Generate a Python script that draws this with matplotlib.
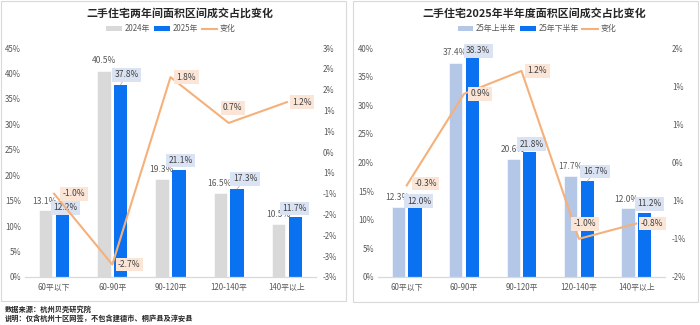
import matplotlib
matplotlib.use("Agg")
import matplotlib.pyplot as plt
from matplotlib.patches import Rectangle, Patch
from matplotlib.lines import Line2D
import numpy as np

plt.rcParams['font.family'] = ['Noto Sans CJK SC', 'DejaVu Sans']

# ---------------- data ----------------
categories = ['60平以下', '60-90平', '90-120平', '120-140平', '140平以上']

left_title = '二手住宅两年间面积区间成交占比变化'
left_series_names = ['2024年', '2025年', '变化']
left_a = [13.1, 40.5, 19.3, 16.5, 10.5]
left_b = [12.2, 37.8, 21.1, 17.3, 11.7]
left_change = [-1.0, -2.7, 1.8, 0.7, 1.2]
left_y_ticks = [0, 5, 10, 15, 20, 25, 30, 35, 40, 45]
left_y2_ticks = [-3.0, -2.5, -2.0, -1.5, -1.0, -0.5, 0.0, 0.5, 1.0, 1.5, 2.0, 2.5]
left_y2_labels = ['-3%', '-3%', '-2%', '-2%', '-1%', '1%', '0%', '1%', '1%', '2%', '2%', '3%']

right_title = '二手住宅2025年半年度面积区间成交占比变化'
right_series_names = ['25年上半年', '25年下半年', '变化']
right_a = [12.3, 37.4, 20.6, 17.7, 12.0]
right_b = [12.0, 38.3, 21.8, 16.7, 11.2]
right_change = [-0.3, 0.9, 1.2, -1.0, -0.8]
right_y_ticks = [0, 5, 10, 15, 20, 25, 30, 35, 40]
right_y2_ticks = [-1.5, -1.0, -0.5, 0.0, 0.5, 1.0, 1.5]
right_y2_labels = ['-2%', '-1%', '1%', '0%', '1%', '1%', '2%']

source_text = '数据来源：杭州贝壳研究院'
note_text = '说明：仅含杭州十区网签，不包含建德市、桐庐县及淳安县'

# ---------------- style ----------------
W, H = 700, 325
fig = plt.figure(figsize=(7, 3.25), dpi=100)
fig.patch.set_facecolor('white')

GRAY = '#D9D9D9'
BLUE = '#0A72F0'
LIGHTBLUE = '#B4C7E7'
ORANGE = '#F6B07A'
BOXBLUE = '#DAE3F3'
BOXORANGE = '#FBE5D6'
TXT = '#595959'
FS = 5.7
LFS = 6.1
PT = 0.72  # points per pixel


def fx(x):
    return x / W


def fy(y):
    return 1 - y / H


# panel borders
for (x0, y0, x1, y1) in [(1, 1, 346, 301), (353, 1, 698, 302)]:
    fig.patches.append(Rectangle((fx(x0), fy(y1)), (x1 - x0) / W, (y1 - y0) / H,
                                 transform=fig.transFigure, fill=False,
                                 edgecolor='#D9D9D9', lw=0.8))


def panel(ax_px, title, title_x, legend_x, names, a, b, change, ylim, yticks,
          y2lim, y2ticks, y2labels, color_a, a_off, b_off, line_off, leaders):
    x0, y0, x1, y1 = ax_px
    ax = fig.add_axes([fx(x0), fy(y1), (x1 - x0) / W, (y1 - y0) / H])
    x = np.arange(len(categories))
    w = 0.23
    off = 0.143
    ax.bar(x - off, a, w, color=color_a, edgecolor='white', lw=0.4, zorder=2)
    ax.bar(x + off, b, w, color=BLUE, zorder=2)
    ax.set_xlim(-0.5, len(categories) - 0.5)
    ax.set_ylim(*ylim)
    ax.set_yticks(yticks)
    ax.set_yticklabels([f'{t}%' for t in yticks])
    ax.set_xticks(x)
    ax.set_xticklabels(categories)
    for s in ['top', 'right', 'left']:
        ax.spines[s].set_visible(False)
    ax.spines['bottom'].set_color('#D9D9D9')
    ax.spines['bottom'].set_linewidth(0.9)
    ax.tick_params(axis='both', length=0, labelsize=FS, colors=TXT)
    ax.tick_params(axis='y', pad=3)
    ax.tick_params(axis='x', pad=4)

    # bar labels
    for i, v in enumerate(a):
        dx, dy = a_off[i]
        ax.annotate(f'{v:.1f}%', xy=(i - off, v), xytext=(dx * PT, dy * PT),
                    textcoords='offset points', ha='center', va='center',
                    fontsize=LFS, color=TXT, zorder=5)
    for i, v in enumerate(b):
        dx, dy = b_off[i]
        kw = {}
        if i in leaders:
            kw['arrowprops'] = dict(arrowstyle='-', color='#A6A6A6', lw=0.5,
                                    shrinkA=0, shrinkB=0)
        ax.annotate(f'{v:.1f}%', xy=(i + off, v), xytext=(dx * PT, dy * PT),
                    textcoords='offset points', ha='center', va='center',
                    fontsize=LFS, color='#404040', zorder=6,
                    bbox=dict(boxstyle='square,pad=0.28', fc=BOXBLUE, ec='none'),
                    **kw)

    ax2 = ax.twinx()
    ax2.plot(x, change, color=ORANGE, lw=1.5, zorder=3)
    ax2.set_ylim(*y2lim)
    ax2.set_yticks(y2ticks)
    ax2.set_yticklabels(y2labels)
    for s in ['top', 'right', 'left', 'bottom']:
        ax2.spines[s].set_visible(False)
    ax2.tick_params(axis='y', length=0, labelsize=FS, colors=TXT, pad=5)
    for i, v in enumerate(change):
        dx, dy = line_off[i]
        ax2.annotate(f'{v:.1f}%', xy=(i, v), xytext=(dx * PT, dy * PT),
                     textcoords='offset points', ha='center', va='center',
                     fontsize=LFS, color='#404040', zorder=7,
                     bbox=dict(boxstyle='square,pad=0.28', fc=BOXORANGE, ec='none'))

    fig.text(fx(title_x), fy(13), title, ha='center', va='center',
             fontsize=7.9, fontweight='bold', color='#262626')
    handles = [Patch(facecolor=color_a, edgecolor='none'),
               Patch(facecolor=BLUE, edgecolor='none'),
               Line2D([0], [0], color=ORANGE, lw=1.5)]
    leg = fig.legend(handles, names, loc='center', ncol=3,
                     bbox_to_anchor=(fx(legend_x), fy(29)), frameon=False,
                     fontsize=FS, handlelength=2.0, handleheight=0.6,
                     handletextpad=0.3, columnspacing=0.5)
    for t in leg.get_texts():
        t.set_color(TXT)
    return ax, ax2


panel((25, 48, 316, 277), left_title, 180, 171, left_series_names,
      left_a, left_b, left_change, (0, 45), left_y_ticks,
      (-3.0, 2.5), left_y2_ticks, left_y2_labels, GRAY,
      a_off=[(-1, 9), (0, 10), (-1, 9), (-1, 10), (0, 9)],
      b_off=[(3, 7), (6, 10), (2, 9), (8, 10), (-1, 9)],
      line_off=[(20, 0), (17, 0), (16, 0), (4, 15), (15, 0)],
      leaders={1, 3})

panel((378, 48, 665, 277), right_title, 534, 537, right_series_names,
      right_a, right_b, right_change, (0, 40), right_y_ticks,
      (-1.5, 1.5), right_y2_ticks, right_y2_labels, LIGHTBLUE,
      a_off=[(-1, 9), (-1, 10), (0, 10), (0, 9), (-2, 9)],
      b_off=[(4, 7), (6, 7), (2, 8), (8, 10), (5, 9)],
      line_off=[(19, 2), (16, 0), (16, 0), (6, 15), (16, 0)],
      leaders={1, 3})

fig.text(fx(5), fy(309), source_text, ha='left', va='center', fontsize=5.2,
         fontweight='bold', color='#262626')
fig.text(fx(5), fy(318), note_text, ha='left', va='center', fontsize=5.2,
         fontweight='bold', color='#262626')

fig.savefig('out.png', dpi=100, facecolor='white')
